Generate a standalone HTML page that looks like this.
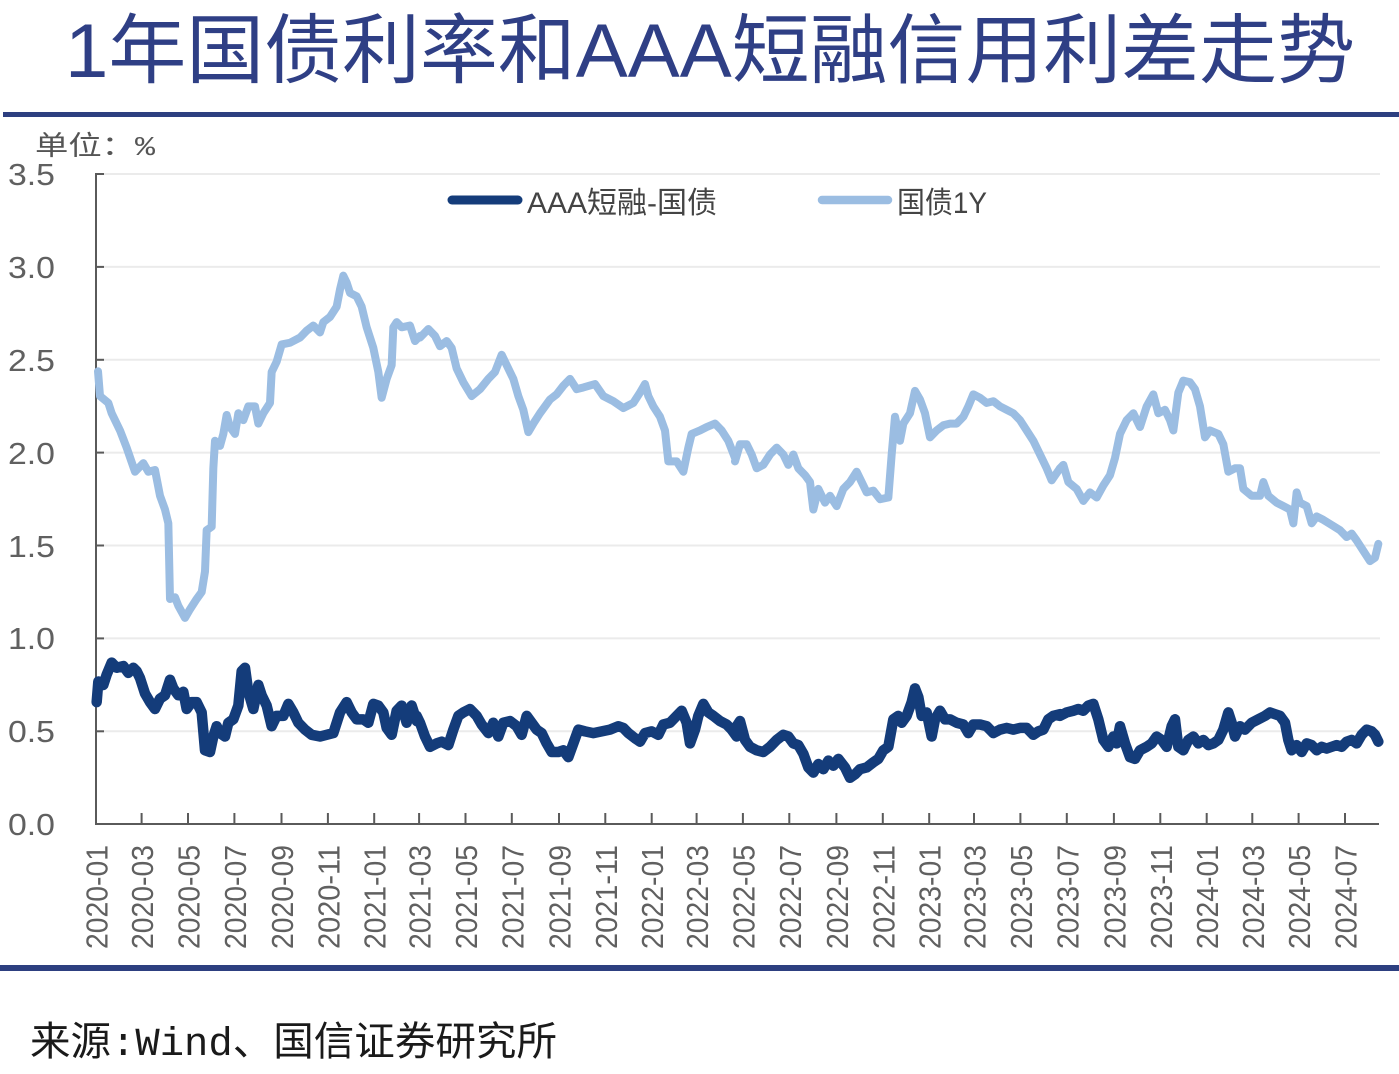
<!DOCTYPE html>
<html><head><meta charset="utf-8"><style>
html,body{margin:0;padding:0;background:#fff;}
svg{display:block;}
</style></head><body>
<svg width="1399" height="1074" viewBox="0 0 1399 1074" xmlns="http://www.w3.org/2000/svg">
<rect x="0" y="0" width="1399" height="1074" fill="#ffffff"/>
<text x="65" y="77" font-family="'Liberation Sans','Noto Sans CJK SC',sans-serif" font-size="76" fill="#2f3f85" textLength="1290" lengthAdjust="spacingAndGlyphs">1年国债利率和AAA短融信用利差走势</text>
<rect x="3" y="112" width="1396" height="5" fill="#2d3f80"/>
<text x="35" y="155" font-family="'Liberation Mono','Noto Sans CJK SC',sans-serif" font-size="27" fill="#555" textLength="120" lengthAdjust="spacingAndGlyphs">单位：%</text>

<g stroke="#ebebeb" stroke-width="2">
<line x1="97" y1="174" x2="1380" y2="174"/>
<line x1="97" y1="266.9" x2="1380" y2="266.9"/>
<line x1="97" y1="359.8" x2="1380" y2="359.8"/>
<line x1="97" y1="452.6" x2="1380" y2="452.6"/>
<line x1="97" y1="545.5" x2="1380" y2="545.5"/>
<line x1="97" y1="638.4" x2="1380" y2="638.4"/>
<line x1="97" y1="731.3" x2="1380" y2="731.3"/>
</g>

<g stroke="#5a5a5a" stroke-width="2" fill="none">
<line x1="96" y1="173" x2="96" y2="825"/>
<line x1="95" y1="824" x2="1379" y2="824"/>
<line x1="96" y1="174" x2="104" y2="174"/>
<line x1="96" y1="266.9" x2="104" y2="266.9"/>
<line x1="96" y1="359.8" x2="104" y2="359.8"/>
<line x1="96" y1="452.6" x2="104" y2="452.6"/>
<line x1="96" y1="545.5" x2="104" y2="545.5"/>
<line x1="96" y1="638.4" x2="104" y2="638.4"/>
<line x1="96" y1="731.3" x2="104" y2="731.3"/>
<path d="M141.6,824V813 M188,824V813 M234.4,824V813 M281.5,824V813 M327.9,824V813 M374.2,824V813 M419.1,824V813 M465.5,824V813 M511.8,824V813 M559,824V813 M605.3,824V813 M651.7,824V813 M696.6,824V813 M742.9,824V813 M789.3,824V813 M836.4,824V813 M882.8,824V813 M929.2,824V813 M974,824V813 M1020.4,824V813 M1066.8,824V813 M1113.9,824V813 M1160.3,824V813 M1206.7,824V813 M1252.3,824V813 M1298.6,824V813 M1345,824V813"/>
</g>

<g font-family="'Liberation Sans',sans-serif" font-size="31" fill="#606060">
<text x="8" y="185" textLength="47" lengthAdjust="spacingAndGlyphs">3.5</text>
<text x="8" y="278" textLength="47" lengthAdjust="spacingAndGlyphs">3.0</text>
<text x="8" y="371" textLength="47" lengthAdjust="spacingAndGlyphs">2.5</text>
<text x="8" y="464" textLength="47" lengthAdjust="spacingAndGlyphs">2.0</text>
<text x="8" y="557" textLength="47" lengthAdjust="spacingAndGlyphs">1.5</text>
<text x="8" y="649" textLength="47" lengthAdjust="spacingAndGlyphs">1.0</text>
<text x="8" y="742" textLength="47" lengthAdjust="spacingAndGlyphs">0.5</text>
<text x="8" y="835" textLength="47" lengthAdjust="spacingAndGlyphs">0.0</text>
</g>

<g font-family="'Liberation Sans',sans-serif" font-size="31" fill="#606060" text-anchor="end">
<text transform="translate(107.5,845) rotate(-90)" textLength="104" lengthAdjust="spacingAndGlyphs">2020-01</text>
<text transform="translate(153.1,845) rotate(-90)" textLength="104" lengthAdjust="spacingAndGlyphs">2020-03</text>
<text transform="translate(199.5,845) rotate(-90)" textLength="104" lengthAdjust="spacingAndGlyphs">2020-05</text>
<text transform="translate(245.9,845) rotate(-90)" textLength="104" lengthAdjust="spacingAndGlyphs">2020-07</text>
<text transform="translate(293,845) rotate(-90)" textLength="104" lengthAdjust="spacingAndGlyphs">2020-09</text>
<text transform="translate(339.4,845) rotate(-90)" textLength="104" lengthAdjust="spacingAndGlyphs">2020-11</text>
<text transform="translate(385.7,845) rotate(-90)" textLength="104" lengthAdjust="spacingAndGlyphs">2021-01</text>
<text transform="translate(430.6,845) rotate(-90)" textLength="104" lengthAdjust="spacingAndGlyphs">2021-03</text>
<text transform="translate(477,845) rotate(-90)" textLength="104" lengthAdjust="spacingAndGlyphs">2021-05</text>
<text transform="translate(523.3,845) rotate(-90)" textLength="104" lengthAdjust="spacingAndGlyphs">2021-07</text>
<text transform="translate(570.5,845) rotate(-90)" textLength="104" lengthAdjust="spacingAndGlyphs">2021-09</text>
<text transform="translate(616.8,845) rotate(-90)" textLength="104" lengthAdjust="spacingAndGlyphs">2021-11</text>
<text transform="translate(663.2,845) rotate(-90)" textLength="104" lengthAdjust="spacingAndGlyphs">2022-01</text>
<text transform="translate(708.1,845) rotate(-90)" textLength="104" lengthAdjust="spacingAndGlyphs">2022-03</text>
<text transform="translate(754.4,845) rotate(-90)" textLength="104" lengthAdjust="spacingAndGlyphs">2022-05</text>
<text transform="translate(800.8,845) rotate(-90)" textLength="104" lengthAdjust="spacingAndGlyphs">2022-07</text>
<text transform="translate(847.9,845) rotate(-90)" textLength="104" lengthAdjust="spacingAndGlyphs">2022-09</text>
<text transform="translate(894.3,845) rotate(-90)" textLength="104" lengthAdjust="spacingAndGlyphs">2022-11</text>
<text transform="translate(940.7,845) rotate(-90)" textLength="104" lengthAdjust="spacingAndGlyphs">2023-01</text>
<text transform="translate(985.5,845) rotate(-90)" textLength="104" lengthAdjust="spacingAndGlyphs">2023-03</text>
<text transform="translate(1031.9,845) rotate(-90)" textLength="104" lengthAdjust="spacingAndGlyphs">2023-05</text>
<text transform="translate(1078.3,845) rotate(-90)" textLength="104" lengthAdjust="spacingAndGlyphs">2023-07</text>
<text transform="translate(1125.4,845) rotate(-90)" textLength="104" lengthAdjust="spacingAndGlyphs">2023-09</text>
<text transform="translate(1171.8,845) rotate(-90)" textLength="104" lengthAdjust="spacingAndGlyphs">2023-11</text>
<text transform="translate(1218.2,845) rotate(-90)" textLength="104" lengthAdjust="spacingAndGlyphs">2024-01</text>
<text transform="translate(1263.8,845) rotate(-90)" textLength="104" lengthAdjust="spacingAndGlyphs">2024-03</text>
<text transform="translate(1310.1,845) rotate(-90)" textLength="104" lengthAdjust="spacingAndGlyphs">2024-05</text>
<text transform="translate(1356.5,845) rotate(-90)" textLength="104" lengthAdjust="spacingAndGlyphs">2024-07</text>
</g>

<!-- legend -->
<line x1="452" y1="200" x2="518" y2="200" stroke="#143c7a" stroke-width="9" stroke-linecap="round"/>
<text x="527" y="213" font-family="'Liberation Sans','Noto Sans CJK SC',sans-serif" font-size="30" fill="#444" textLength="190" lengthAdjust="spacingAndGlyphs">AAA短融-国债</text>
<line x1="822" y1="200" x2="888" y2="200" stroke="#9bbde2" stroke-width="8.5" stroke-linecap="round"/>
<text x="897" y="213" font-family="'Liberation Sans','Noto Sans CJK SC',sans-serif" font-size="30" fill="#444" textLength="90" lengthAdjust="spacingAndGlyphs">国债1Y</text>

<!-- light series: 国债1Y -->
<g fill="none" stroke="#9bbde2" stroke-width="8" stroke-linejoin="round" stroke-linecap="round">
<path transform="translate(90,261.94) scale(0.33333,0.3439)" vector-effect="non-scaling-stroke" d="M24,318 L30,390 L55,410 65,440 90,490 110,540 135,610 160,585 175,610 195,605 210,680 225,720 235,760 240,980 255,975 265,1000 285,1035 300,1010 320,980 335,960 345,900 350,780 365,770 370,600 375,520 390,535 400,500 410,445 420,480 435,500 445,440 460,460 475,420 495,420 505,470 520,440 540,410 545,320 560,290 575,240 600,235 630,220 650,200 670,185 690,205 700,175 720,160 740,130 750,80 760,40 770,60 780,90 800,100 815,130 830,190 850,250 865,320 875,395 890,340 905,300 910,190 920,175 935,190 960,185 975,230 990,215"/>
<path transform="translate(410,261.94) scale(0.33333,0.3439)" vector-effect="non-scaling-stroke" d="M30,220 L55,195 75,215 90,245 110,230 125,250 140,310 160,350 185,390 210,370 235,340 255,320 275,270 290,300 310,340 325,390 340,430 355,495 370,470 390,440 420,400 440,385 460,360 480,340 500,370 520,365 555,355 580,390 610,405 640,425 670,410 690,380 705,355 715,390 730,420 750,450 765,490 775,580 800,580 820,610 835,540 845,500 870,490 890,480 915,470 935,490 955,520 975,570"/>
<path transform="translate(730,261.94) scale(0.33333,0.3439)" vector-effect="non-scaling-stroke" d="M15,580 L30,530 50,530 65,560 80,600 100,590 120,560 140,540 160,560 175,590 190,560 205,600 225,620 240,640 250,720 265,660 285,700 300,680 320,710 340,660 360,640 380,610 395,640 410,670 430,665 450,690 475,685 485,560 495,450 510,520 520,470 540,440 555,375 570,400 585,440 600,510 620,490 640,475 660,470 680,470 700,450 715,420 730,385 750,395 770,410 790,405 810,420 830,430 850,440 870,460 890,490 910,520 930,560 950,600 965,635 990,600"/>
<path transform="translate(1050,261.94) scale(0.33333,0.3439)" vector-effect="non-scaling-stroke" d="M30,600 L40,590 55,640 80,660 100,695 120,670 140,685 160,650 180,620 195,570 210,500 230,460 250,440 270,480 290,420 310,385 325,440 345,430 360,460 370,490 385,380 400,345 420,350 435,370 450,420 465,510 480,490 505,500 520,530 535,610 555,600 570,600 580,660 605,680 630,680 640,640 655,680 680,700 700,710 720,720 730,760 740,670 750,700 770,710 785,760 800,740 820,750 845,765 870,780 890,800 905,790 920,810 940,840 960,870 975,860 985,820"/>
</g>

<!-- dark series: AAA短融-国债 -->
<g fill="none" stroke="#143c7a" stroke-width="10.5" stroke-linejoin="round" stroke-linecap="round">
<path transform="translate(90,261.94) scale(0.33333,0.3439)" vector-effect="non-scaling-stroke" d="M20,1280 L25,1220 40,1230 50,1200 65,1165 80,1180 100,1175 115,1195 130,1180 140,1190 150,1210 165,1255 180,1280 195,1300 210,1270 225,1260 240,1215 250,1240 265,1260 280,1250 290,1300 305,1280 320,1280 335,1310 345,1420 360,1425 370,1380 380,1350 390,1370 405,1380 415,1340 430,1330 445,1290 455,1190 465,1180 475,1250 490,1300 505,1230 515,1260 530,1290 545,1350 560,1320 580,1320 595,1285 610,1310 625,1340 645,1360 665,1375 690,1380 710,1375 730,1370 750,1310 770,1280 785,1310 800,1330 820,1330 835,1340 850,1285 865,1290 880,1310 890,1355 905,1375 920,1305 935,1290 950,1340 965,1290 980,1335"/>
<path transform="translate(410,261.94) scale(0.33333,0.3439)" vector-effect="non-scaling-stroke" d="M20,1320 L30,1340 45,1380 60,1410 80,1400 95,1395 115,1405 130,1360 145,1320 160,1310 180,1300 200,1320 215,1345 235,1370 250,1340 265,1380 280,1340 300,1335 320,1350 335,1375 350,1320 365,1340 380,1360 395,1370 410,1400 425,1425 445,1425 460,1420 475,1440 490,1400 505,1360 525,1365 550,1370 575,1365 600,1360 625,1350 640,1355 655,1370 675,1385 690,1395 705,1370 725,1365 745,1375 760,1345 780,1340 800,1320 815,1305 830,1340 840,1400 855,1360 865,1320 880,1285 895,1310 910,1320 930,1335 950,1345 965,1360 980,1380"/>
<path transform="translate(730,261.94) scale(0.33333,0.3439)" vector-effect="non-scaling-stroke" d="M20,1350 L30,1335 45,1390 60,1410 80,1420 100,1425 120,1410 140,1390 160,1375 175,1380 190,1400 205,1405 220,1430 235,1470 250,1485 265,1460 280,1475 295,1450 310,1465 325,1445 345,1470 360,1500 375,1490 390,1475 410,1470 430,1455 445,1445 460,1420 475,1410 490,1330 505,1320 515,1340 530,1320 545,1280 555,1240 565,1265 575,1320 590,1310 605,1380 615,1330 630,1305 645,1330 660,1330 680,1340 700,1345 715,1370 730,1345 750,1345 770,1350 790,1370 810,1360 830,1355 850,1360 870,1355 890,1355 910,1375 925,1365 940,1360 955,1330 970,1320 990,1315"/>
<path transform="translate(1050,261.94) scale(0.33333,0.3439)" vector-effect="non-scaling-stroke" d="M20,1318 L30,1320 50,1310 70,1305 85,1300 100,1305 115,1290 130,1285 145,1330 160,1390 175,1410 190,1380 200,1400 210,1350 225,1400 240,1440 255,1445 270,1420 290,1410 305,1400 320,1380 335,1390 350,1410 365,1350 375,1330 385,1410 400,1420 415,1390 430,1380 445,1400 460,1390 475,1405 490,1400 505,1390 520,1360 535,1310 545,1340 555,1380 570,1350 585,1360 605,1340 625,1330 645,1320 660,1310 675,1315 690,1320 705,1340 715,1390 725,1420 740,1405 755,1425 770,1400 785,1405 800,1420 815,1410 830,1415 845,1410 860,1405 875,1410 890,1395 905,1390 920,1400 935,1375 950,1360 965,1365 975,1375 985,1395"/>
</g>

<rect x="0" y="965" width="1399" height="6" fill="#2d3f80"/>
<text x="30" y="1055" font-family="'Liberation Mono','Noto Sans CJK SC',sans-serif" font-size="40" fill="#1a1a1a" textLength="527" lengthAdjust="spacingAndGlyphs">来源:Wind、国信证券研究所</text>
</svg>
</body></html>
